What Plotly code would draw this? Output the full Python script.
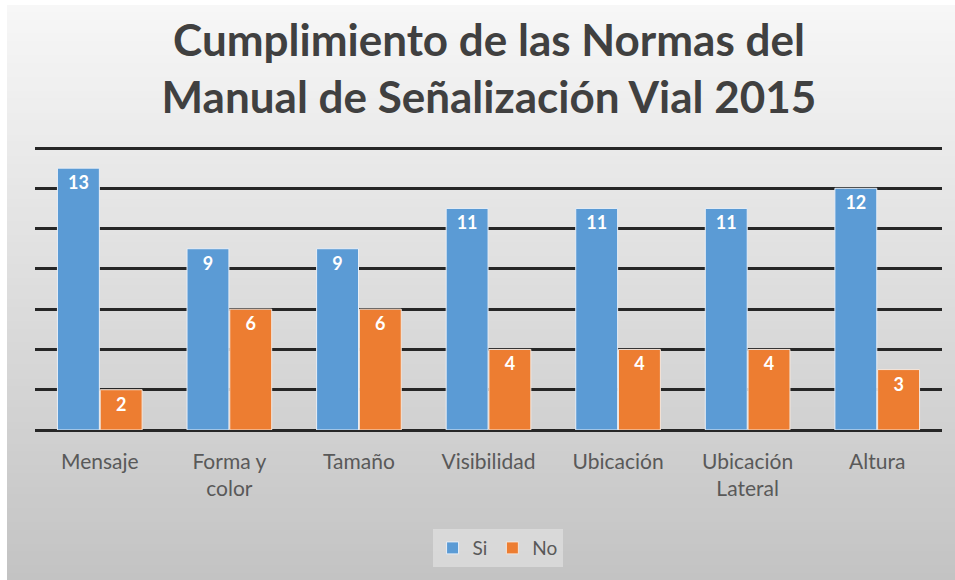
import plotly.graph_objects as go

categories = ["Mensaje", "Forma y<br>color", "Tamaño", "Visibilidad", "Ubicación", "Ubicación<br>Lateral", "Altura"]
si_values = [13, 9, 9, 11, 11, 11, 12]
no_values = [2, 6, 6, 4, 4, 4, 3]

W, H = 955, 580
ml, mr, mt, mb = 35, 13, 147, 150
pw, ph = W - ml - mr, H - mt - mb

label_font = dict(color="white", size=18, family="Lato", weight="bold")
fig = go.Figure()
fig.add_bar(x=categories, y=si_values, name="Si", marker=dict(color="#5B9BD5", line=dict(color="#e8eef6", width=1)),
            text=si_values, textposition="inside", insidetextanchor="end",
            textfont=label_font, cliponaxis=False)
fig.add_bar(x=categories, y=no_values, name="No", marker=dict(color="#ED7D31", line=dict(color="#f4e6dc", width=1)),
            text=no_values, textposition="inside", insidetextanchor="end",
            textfont=label_font, cliponaxis=False)

# background gradient strips
shapes = []
n = 80
x0p, x1p = (7 - ml) / pw, (W - ml) / pw
top_px, bot_px = 5, H
for i in range(n):
    ya = top_px + (bot_px - top_px) * i / n
    yb = top_px + (bot_px - top_px) * (i + 1) / n + 1.5
    t = (i + 0.5) / n
    v = int(round(247 - (247 - 195) * t))
    col = f"rgb({v},{v},{v})"
    shapes.append(dict(type="rect", xref="paper", yref="paper", layer="below",
                       x0=x0p, x1=x1p, y0=(H - mb - min(yb, H)) / ph, y1=(H - mb - ya) / ph,
                       fillcolor=col, line=dict(width=0)))

fig.update_layout(
    width=W, height=H,
    margin=dict(l=ml, r=mr, t=mt, b=mb),
    paper_bgcolor="white", plot_bgcolor="rgba(0,0,0,0)",
    shapes=shapes,
    barmode="group", bargap=0.34, bargroupgap=0.02,
    title=dict(text="Cumplimiento de las Normas del<br>Manual de Señalización Vial 2015",
               x=0.512, xanchor="center", y=0.903, yanchor="top",
               font=dict(family="Lato", size=44, color="#404040", weight="bold")),
    font=dict(family="Lato", color="#595959"),
    xaxis=dict(showgrid=False, showline=False, ticks="", ticklabelstandoff=17,
               tickfont=dict(size=21, color="#595959")),
    yaxis=dict(range=[0, 14.05], dtick=2, showticklabels=False, showgrid=True, gridcolor="#262626",
               gridwidth=3, zeroline=True, zerolinecolor="#262626", zerolinewidth=3, showline=False),
    legend=dict(orientation="h", x=0.51, xanchor="center", y=-0.35, yanchor="top",
                bgcolor="rgba(236,236,236,0.5)", font=dict(size=19, color="#595959"),
                itemwidth=30),
)

fig.write_html("out.html", config={"displayModeBar": False},
               post_script="document.body.style.margin='0';")
